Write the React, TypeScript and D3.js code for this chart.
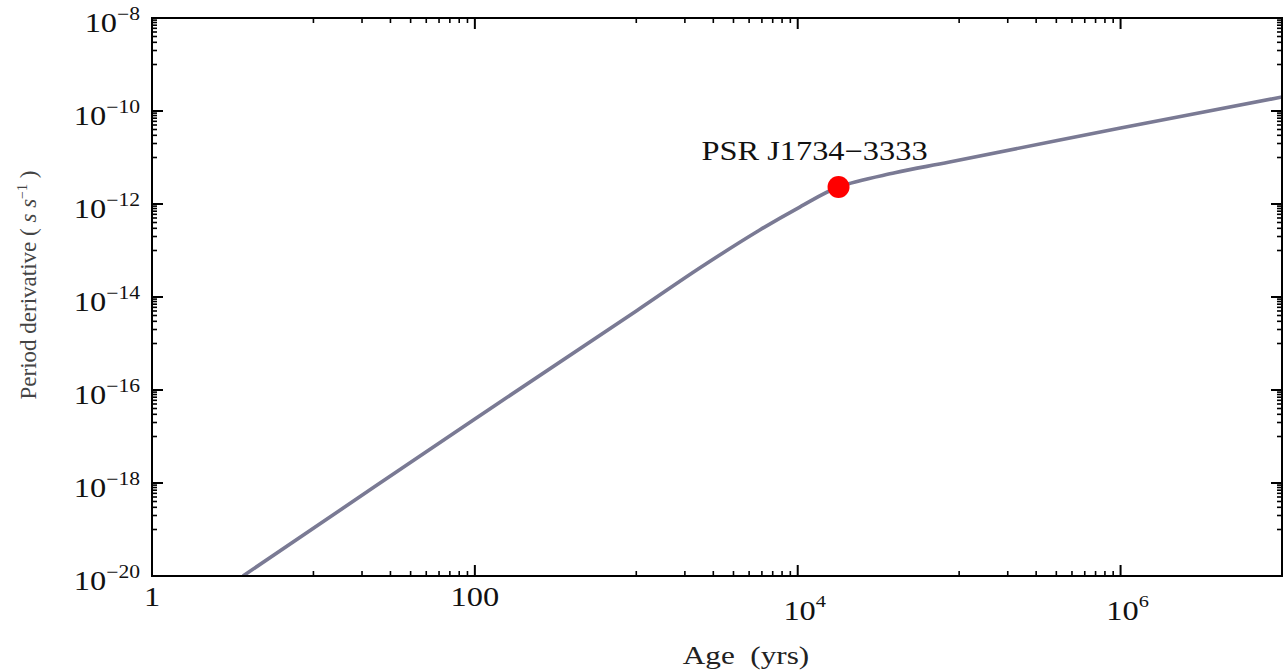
import React from "react";
import * as d3 from "d3";

// Curve (age in years, period derivative in s/s)
const ageYrs = [3.66, 100, 1000, 2470, 5820, 10300, 17900, 40000, 87300, 1.0e6, 1.0e7];
const periodDerivative = [1.0e-20, 2.38e-17, 5.0e-15, 4.2e-14, 2.76e-13, 8.6e-13, 2.32e-12, 4.7e-12, 8.0e-12, 4.3e-11, 2.0e-10];

// Pulsar marker
const pulsarName = "PSR J1734\u22123333";
const pulsarAge = [17900];
const pulsarPdot = [2.32e-12];

// Axes
const xMajorTicks = [1, 100, 1e4, 1e6];
const xMajorLabels = [["1", ""], ["100", ""], ["10", "4"], ["10", "6"]];
const xMinorDecades = [10, 1e3, 1e5];
const yMajorExponents = [-8, -10, -12, -14, -16, -18, -20];
const yMinorDecades = [1e-9, 1e-11, 1e-13, 1e-15, 1e-17, 1e-19];
const xTitle = "Age\u00a0\u00a0(yrs)";
const yTitle = "Period derivative";

const W = 1285, H = 672;
const L = 152, R = 1282, T = 18, B = 576;
const FONT = "'Liberation Serif', 'Times New Roman', serif";
const SX = 1.2;

export default function App() {
  const x = d3.scaleLog().domain([1, 1e7]).range([L, R]);
  const y = d3.scaleLog().domain([1e-20, 1e-8]).range([B, T]);
  const pts = ageYrs.map((a, i) => [x(a), y(periodDerivative[i])] as [number, number]);
  const path = d3.line().curve(d3.curveCatmullRom.alpha(0.5))(pts) || "";

  const xMinor: number[] = [];
  xMinorDecades.forEach((d) => { for (let k = 1; k <= 9; k++) xMinor.push(k * d); });
  const yMinor: number[] = [];
  yMinorDecades.forEach((d) => { for (let k = 1; k <= 9; k++) yMinor.push(k * d); });

  const MAJ = 11, MIN = 5;
  return (
    <svg width={W} height={H} style={{ position: "absolute", left: 0, top: 0, background: "#fff" }}>
      <defs>
        <clipPath id="plotclip"><rect x={L} y={T} width={R - L} height={B - T} /></clipPath>
      </defs>
      <path d={path} fill="none" stroke="#7a7a94" strokeWidth={3.6} clipPath="url(#plotclip)" />
      {pulsarAge.map((a, i) => (
        <circle key={i} cx={x(a)} cy={y(pulsarPdot[i])} r={11} fill="#ff0000" />
      ))}
      {pulsarAge.map((a, i) => (
        <text key={"t" + i} transform={`translate(${x(a) - 24},${y(pulsarPdot[i]) - 27}) scale(${SX},1)`} fontFamily={FONT} fontSize={27} textAnchor="middle" fill="#111">{pulsarName}</text>
      ))}
      {/* frame */}
      <rect x={L} y={T} width={R - L} height={B - T} fill="none" stroke="#000" strokeWidth={2} />
      {/* x ticks */}
      {xMajorTicks.map((t) => (
        <g key={"xm" + t}>
          <line x1={x(t)} x2={x(t)} y1={B} y2={B - MAJ} stroke="#000" strokeWidth={2} />
          <line x1={x(t)} x2={x(t)} y1={T} y2={T + MAJ} stroke="#000" strokeWidth={2} />
        </g>
      ))}
      {xMinor.map((t) => (
        <g key={"xn" + t}>
          <line x1={x(t)} x2={x(t)} y1={B} y2={B - MIN} stroke="#000" strokeWidth={1.6} />
          <line x1={x(t)} x2={x(t)} y1={T} y2={T + MIN} stroke="#000" strokeWidth={1.6} />
        </g>
      ))}
      {/* y ticks */}
      {yMajorExponents.map((e) => {
        const v = Math.pow(10, e);
        return (
          <g key={"ym" + e}>
            <line x1={L} x2={L + MAJ} y1={y(v)} y2={y(v)} stroke="#000" strokeWidth={2} />
            <line x1={R} x2={R - MAJ} y1={y(v)} y2={y(v)} stroke="#000" strokeWidth={2} />
          </g>
        );
      })}
      {yMinor.map((t) => (
        <g key={"yn" + t}>
          <line x1={L} x2={L + MIN} y1={y(t)} y2={y(t)} stroke="#000" strokeWidth={1.6} />
          <line x1={R} x2={R - MIN} y1={y(t)} y2={y(t)} stroke="#000" strokeWidth={1.6} />
        </g>
      ))}
      {/* x labels */}
      {xMajorTicks.map((t, i) => {
        const [base, sup] = xMajorLabels[i];
        return (
          <text key={"xl" + t} transform={`translate(${x(t) + (sup ? 7 : 0)},${sup ? 620 : 606}) scale(${SX},1)`} fontFamily={FONT} fontSize={27} textAnchor="middle" fill="#111">
            {base}
            {sup ? <tspan fontSize={17} dy={-13}>{sup}</tspan> : null}
          </text>
        );
      })}
      {/* y labels */}
      {yMajorExponents.map((e) => (
        <text key={"yl" + e} transform={`translate(140,${y(Math.pow(10, e)) + 14}) scale(${SX},1)`} fontFamily={FONT} fontSize={27} textAnchor="end" fill="#111">
          10<tspan fontSize={18} dy={-12}>{"\u2212" + Math.abs(e)}</tspan>
        </text>
      ))}
      {/* axis titles */}
      <text transform={`translate(746,664) scale(${SX},1)`} fontFamily={FONT} fontSize={26} textAnchor="middle" fill="#222">{xTitle}</text>
      <text transform={`translate(36,${285}) rotate(-90)`} fontFamily={FONT} fontSize={23} textAnchor="middle" fill="#444">
        {yTitle}{"\u00a0(\u00a0"}<tspan fontStyle="italic">s s</tspan><tspan fontSize={14} dy={-9}>{"\u22121"}</tspan><tspan dy={9}>{"\u00a0)"}</tspan>
      </text>
    </svg>
  );
}
